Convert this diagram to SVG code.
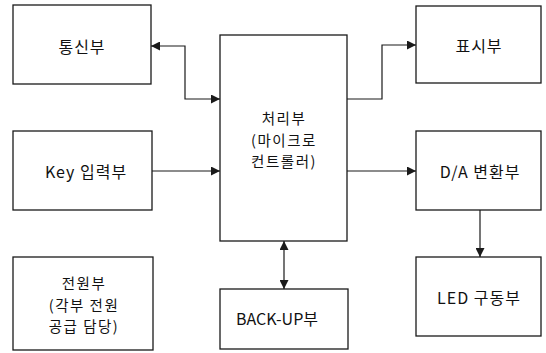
<svg xmlns="http://www.w3.org/2000/svg" width="546" height="353" viewBox="0 0 546 353">
<defs>
<style>
.box{fill:#fff;stroke:#1a1a1a;stroke-width:1.3}
.ln{fill:none;stroke:#1a1a1a;stroke-width:1.2}
text{font-family:"Noto Sans CJK KR","Liberation Sans",sans-serif;font-size:16px;letter-spacing:1px;fill:#111;text-anchor:middle;dominant-baseline:central}
text.m{font-size:14.5px;letter-spacing:1.5px}
text.l{letter-spacing:0}
</style>
<marker id="ah" viewBox="0 0 10 10" refX="10" refY="5" markerWidth="9" markerHeight="9" markerUnits="userSpaceOnUse" orient="auto-start-reverse">
<path d="M0,0 L10,5 L0,10 z" fill="#1a1a1a"/>
</marker>
</defs>
<rect width="546" height="353" fill="#fff"/>
<g id="comm"><rect class="box" x="13" y="5" width="138" height="79"/><text x="82" y="46">통신부</text></g>
<g id="key"><rect class="box" x="13" y="131" width="139" height="79"/><text x="86" y="171">Key 입력부</text></g>
<g id="power"><rect class="box" x="13" y="257" width="140" height="93"/><text class="m" x="84" y="282.5">전원부</text><text class="m" x="84" y="304">(각부 전원</text><text class="m" x="84" y="325.5">공급 담당)</text></g>
<g id="cpu"><rect class="box" x="220" y="35" width="127" height="206"/><text class="m" x="284" y="117.5">처리부</text><text class="m" x="284" y="139">(마이크로</text><text class="m" x="284" y="160.5">컨트롤러)</text></g>
<g id="backup"><rect class="box" x="220" y="289" width="128" height="60"/><text class="l" x="277" y="318">BACK-UP부</text></g>
<g id="disp"><rect class="box" x="416" y="6" width="125" height="77"/><text x="479" y="45">표시부</text></g>
<g id="da"><rect class="box" x="416" y="131" width="125" height="79"/><text x="480" y="171">D/A 변환부</text></g>
<g id="led"><rect class="box" x="416" y="257" width="125" height="79"/><text x="479" y="297">LED 구동부</text></g>
<g id="connectors">
<path class="ln" d="M151,46 H185 V99 H220" marker-start="url(#ah)" marker-end="url(#ah)"/>
<path class="ln" d="M152,171 H220" marker-end="url(#ah)"/>
<path class="ln" d="M347,99 H382 V45 H416" marker-end="url(#ah)"/>
<path class="ln" d="M347,171 H416" marker-end="url(#ah)"/>
<path class="ln" d="M480,210 V257" marker-end="url(#ah)"/>
<path class="ln" d="M284,241 V289" marker-start="url(#ah)" marker-end="url(#ah)"/>
</g>
</svg>
